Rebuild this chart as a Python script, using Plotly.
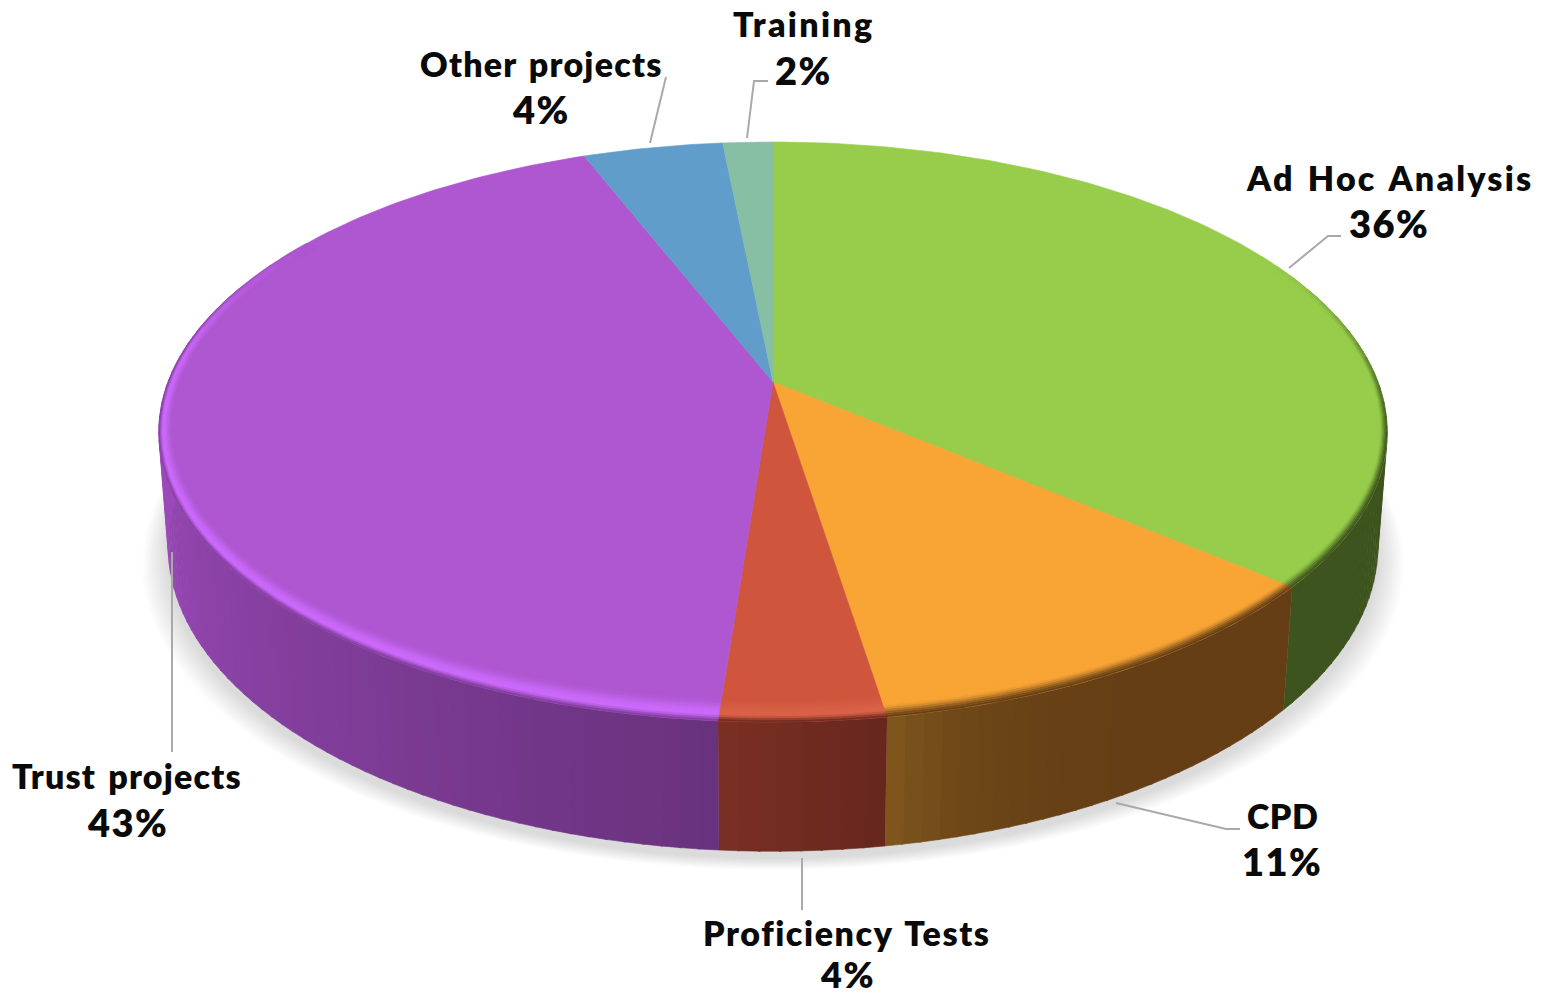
import numpy as np
import plotly.graph_objects as go

# ---- data ----
categories = ["Ad Hoc Analysis", "CPD", "Proficiency Tests", "Trust projects", "Other projects", "Training"]
values = [36.2, 11.3, 3.7, 42.9, 4.35, 1.55]
percent_labels = ["36%", "11%", "4%", "43%", "4%", "2%"]

# ---- styles ----
top_colors = [(151, 205, 75), (248, 165, 54), (207, 86, 60), (174, 87, 208), (97, 157, 202), (135, 191, 164)]
wall_start = [(62, 84, 30), (101, 62, 21), (103, 38, 30), (105, 50, 125), (70, 110, 150), (90, 130, 110)]
wall_end = [(62, 84, 30), (128, 88, 30), (122, 48, 35), (156, 74, 186), (70, 110, 150), (90, 130, 110)]
wall_power = [1, 6, 1, 1, 1, 1]
rim_peak = [None, None, (218, 98, 72), (204, 106, 252), None, None]

# ---- projection of the tilted disc onto the page (pixel canvas) ----
CX, CY = 773.0, 382.0
A, B, K = 605.0, 281.4, 0.1724
D, M = 114.0, 0.015


def project(u, v, z=0.0):
    w = 1 + K * v + M * z
    return CX + A * u / w, CY + (-B * v + D * z) / w


def rgb(c):
    return "rgb(%d,%d,%d)" % tuple(int(round(x)) for x in c)


def mix(c1, c2, t):
    return tuple(a + (b - a) * t for a, b in zip(c1, c2))


def sstep(e0, e1, x):
    t = min(max((x - e0) / (e1 - e0), 0), 1)
    return t * t * (3 - 2 * t)


fig = go.Figure()


def poly(xs, ys, color):
    fig.add_trace(go.Scatter(x=list(xs), y=list(ys), mode="lines", fill="toself", fillcolor=color,
                             line=dict(color=color, width=0.6), hoverinfo="skip", showlegend=False))


# slice angles, clockwise from 12 o'clock
edges = np.concatenate([[0], np.cumsum(values)]) / sum(values) * 360.0

# ---- soft shadow under the disc ----
circle = np.radians(np.linspace(0, 360, 241))
for g in np.linspace(26, 2, 12):
    xs, ys = project(np.sin(circle), np.cos(circle), 1.0)
    poly(CX + (xs - CX) * (1 + g / 610), ys + 7 + g * 0.45, "rgba(0,0,0,0.011)")

# ---- side wall ----
for i in range(len(values)):
    a0 = max(edges[i], 70)
    a1 = min(edges[i + 1], 290)
    if a1 <= a0:
        continue
    n = max(2, int((a1 - a0) / 1.5))
    grid = np.linspace(a0, a1, n + 1)
    end = min(a1, 262)
    for s in range(n):
        a = np.radians(np.linspace(grid[s], min(grid[s + 1] + 0.2, a1), 3))
        xt, yt = project(np.sin(a), np.cos(a), 0)
        xb, yb = project(np.sin(a), np.cos(a), 1)
        t = min(1.0, (grid[s] + grid[s + 1] - 2 * a0) / 2 / (end - a0)) ** wall_power[i]
        poly(np.r_[xt, xb[::-1]], np.r_[yt, yb[::-1]], rgb(mix(wall_start[i], wall_end[i], t)))

# ---- top face ----
for i in range(len(values)):
    a = np.radians(np.linspace(edges[i], edges[i + 1], max(3, int(edges[i + 1] - edges[i]) + 2)))
    xs, ys = project(np.sin(a), np.cos(a))
    poly(np.r_[CX, xs, CX], np.r_[CY, ys, CY], rgb(top_colors[i]))


def rim_radius(a, t):
    # bevel is narrow at the sides of the disc and wide toward the viewer
    return 1 - t * (0.022 * np.sin(a) ** 2 + 0.06 * np.cos(a) ** 2)


# ---- bevel along the rim of the top face ----
RINGS = 12
for i in range(len(values)):
    if rim_peak[i] is None and i not in (0, 1):
        continue
    lo, hi = edges[i], edges[i + 1]
    n = max(2, int((hi - lo) / 3))
    grid = np.linspace(lo, hi, n + 1)
    for s in range(n):
        mid = (grid[s] + grid[s + 1]) / 2
        if i == 0:
            f = sstep(60, 105, mid)
        elif i == 3:
            f = 1 - sstep(268, 305, mid)
        else:
            f = 1.0
        if f <= 0.01:
            continue
        wall = mix(wall_start[i], wall_end[i], 0.5 if i != 1 else 0.05)
        for r in range(RINGS):
            t0, t1 = r / RINGS, (r + 1) / RINGS
            tm = (t0 + t1) / 2
            if rim_peak[i] is None:
                col = mix(wall, top_colors[i], sstep(0.0, 0.55, tm))
            else:
                if tm < 0.3:
                    col = mix(wall, rim_peak[i], sstep(0.0, 0.3, tm))
                else:
                    col = mix(rim_peak[i], top_colors[i], sstep(0.3, 1.0, tm))
            col = mix(top_colors[i], col, f)
            a = np.radians(np.linspace(grid[s], min(grid[s + 1] + 0.1, hi), 3))
            r0, r1 = rim_radius(a, t0), rim_radius(a, t1)
            xo, yo = project(np.sin(a) * r0, np.cos(a) * r0)
            xi, yi = project(np.sin(a) * r1, np.cos(a) * r1)
            poly(np.r_[xo, xi[::-1]], np.r_[yo, yi[::-1]], rgb(col))

# ---- leader lines (page layout) ----
leader_paths = {
    "Ad Hoc Analysis": [(1289, 268), (1328, 236), (1341, 236)],
    "CPD": [(1116, 803), (1226, 829), (1240, 829)],
    "Proficiency Tests": [(802, 858), (802, 910)],
    "Trust projects": [(172, 552), (172, 752)],
    "Other projects": [(650, 143), (666, 77)],
    "Training": [(747, 138), (754, 81), (768, 81)],
}
for path in leader_paths.values():
    fig.add_trace(go.Scatter(x=[p[0] for p in path], y=[p[1] for p in path], mode="lines",
                             line=dict(color="#a9a9a9", width=2), hoverinfo="skip", showlegend=False))

# ---- labels (page layout): centre x, name y, percent y, percent size ----
label_places = {
    "Ad Hoc Analysis": (1389, 177, 223, 38),
    "CPD": (1282, 815, 861, 38),
    "Proficiency Tests": (847, 932, 974, 36),
    "Trust projects": (127, 775, 822, 38),
    "Other projects": (541, 63, 109, 38),
    "Training": (803, 23, 70, 38),
}
# letter and word spacing per label, px
label_spacing = {
    "Ad Hoc Analysis": (2.2, 3),
    "CPD": (0.5, 0),
    "Proficiency Tests": (1.6, 3),
    "Trust projects": (1.2, 3),
    "Other projects": (1.2, 3),
    "Training": (2.3, 0),
}
FONT = dict(family="Lato, 'Open Sans', sans-serif", size=34, color="#0a0a0a", weight=800)
PCT_STYLE = "letter-spacing:1.5px;"
for name, pct in zip(categories, percent_labels):
    x, y1, y2, psize = label_places[name]
    ls, ws = label_spacing[name]
    style = "letter-spacing:%.1fpx;word-spacing:%dpx;" % (ls, ws)
    fig.add_annotation(x=x, y=y1, text='<span style="%s">%s</span>' % (style, name), showarrow=False,
                       font=FONT, xanchor="center", yanchor="middle")
    fig.add_annotation(x=x, y=y2, text='<span style="%s">%s</span>' % (PCT_STYLE, pct), showarrow=False,
                       font=dict(FONT, size=psize), xanchor="center", yanchor="middle")

fig.update_layout(
    width=1542, height=997, margin=dict(l=0, r=0, t=0, b=0),
    paper_bgcolor="white", plot_bgcolor="white", showlegend=False, hovermode=False,
    xaxis=dict(range=[0, 1542], visible=False, fixedrange=True),
    yaxis=dict(range=[997, 0], visible=False, fixedrange=True),
)
fig.write_html("out.html", config=dict(displayModeBar=False),
               post_script="document.body.style.margin='0';document.body.style.overflow='hidden';")
